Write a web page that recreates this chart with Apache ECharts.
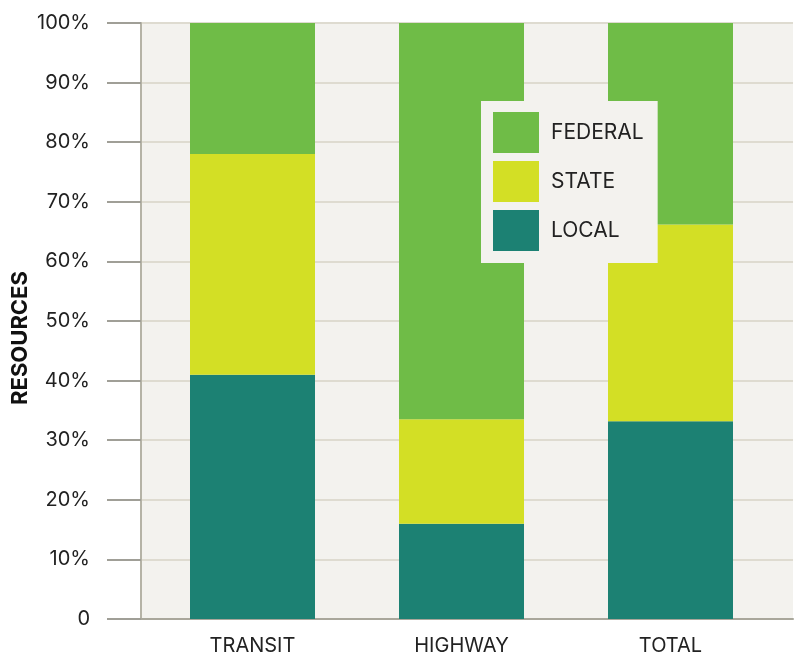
<!DOCTYPE html>
<html>
<head>
<meta charset="utf-8">
<script src="https://cdn.jsdelivr.net/npm/echarts@6/dist/echarts.min.js"></script>
<style>
  html, body { margin: 0; padding: 0; background: #fff; }
  #chart { width: 795px; height: 658px; }
</style>
</head>
<body>
<div id="chart"></div>
<script>
const categories = ["TRANSIT", "HIGHWAY", "TOTAL"];
const localShare = [41, 16, 33.2];
const stateShare = [37, 17.5, 33];
const federalShare = [22, 66.5, 33.8];
const yTicks = [0, 10, 20, 30, 40, 50, 60, 70, 80, 90, 100];

const font = "Inter, 'Noto Sans', sans-serif";
const colors = { federal: "#6fbc47", state: "#d3df25", local: "#1c8173" };

const chart = echarts.init(document.getElementById("chart"));

chart.setOption({
  animation: false,
  textStyle: { fontFamily: font },
  grid: [
    // background + y axis
    { left: 141, right: 2, top: 23, bottom: 39, show: true, backgroundColor: "#f3f2ee", borderWidth: 0 },
    // bars
    { left: 148, width: 627, top: 23, bottom: 39 },
  ],
  xAxis: [
    {
      gridIndex: 0,
      type: "value",
      min: 0,
      max: 1,
      axisLine: { show: true, lineStyle: { color: "#a9a79b", width: 2 } },
      axisTick: { show: false },
      axisLabel: { show: false },
      splitLine: { show: false },
    },
    {
      gridIndex: 1,
      type: "category",
      data: categories,
      axisLine: { show: false },
      axisTick: { show: false },
      axisLabel: { color: "#222", fontSize: 20, margin: 17, fontFamily: font },
    },
  ],
  yAxis: [
    {
      gridIndex: 0,
      type: "value",
      min: yTicks[0],
      max: yTicks[yTicks.length - 1],
      interval: 10,
      axisLine: { show: true, lineStyle: { color: "#b5b3a6", width: 2 } },
      axisTick: { show: true, length: 34, lineStyle: { color: "#a09f97", width: 2 } },
      axisLabel: {
        color: "#222",
        fontSize: 20,
        margin: 51,
        fontFamily: font,
        formatter: (v) => (v === 0 ? "0" : v + "%"),
      },
      splitLine: { show: true, lineStyle: { color: "#dedbd0", width: 2 } },
    },
    {
      gridIndex: 1,
      type: "value",
      min: 0,
      max: 100,
      show: false,
    },
  ],
  legend: {
    orient: "vertical",
    left: 481,
    top: 101,
    data: ["FEDERAL", "STATE", "LOCAL"],
    icon: "rect",
    itemWidth: 46,
    itemHeight: 41,
    itemGap: 8,
    padding: [11, 14, 12, 12],
    backgroundColor: "#f3f2ee",
    textStyle: { color: "#222", fontSize: 21, fontFamily: font, padding: [0, 0, 0, 7] },
    selectedMode: false,
  },
  graphic: [
    {
      type: "text",
      x: 20,
      y: 338,
      rotation: Math.PI / 2,
      style: {
        text: "RESOURCES",
        fill: "#111",
        font: "bold 22px " + font,
        align: "center",
        verticalAlign: "middle",
      },
    },
  ],
  series: [
    { name: "LOCAL", type: "bar", stack: "s", data: localShare, xAxisIndex: 1, yAxisIndex: 1, barWidth: 125, itemStyle: { color: colors.local } },
    { name: "STATE", type: "bar", stack: "s", data: stateShare, xAxisIndex: 1, yAxisIndex: 1, barWidth: 125, itemStyle: { color: colors.state } },
    { name: "FEDERAL", type: "bar", stack: "s", data: federalShare, xAxisIndex: 1, yAxisIndex: 1, barWidth: 125, itemStyle: { color: colors.federal } },
  ],
});
</script>
</body>
</html>
